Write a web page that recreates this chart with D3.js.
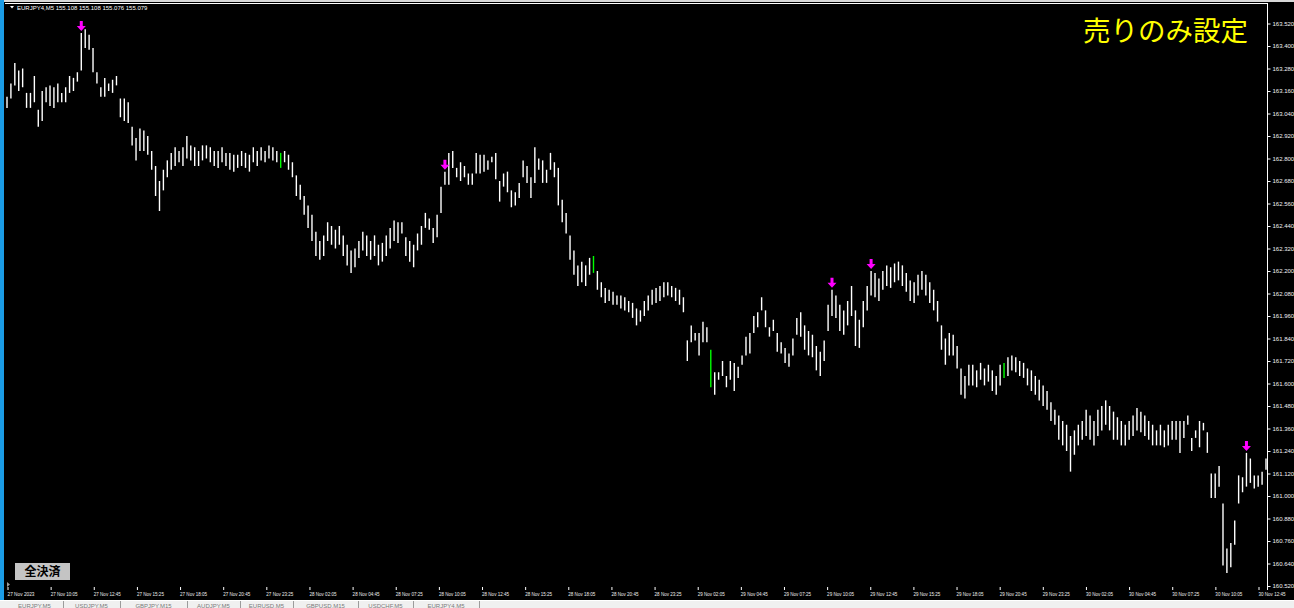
<!DOCTYPE html>
<html>
<head>
<meta charset="utf-8">
<script src="https://cdn.jsdelivr.net/npm/d3@7"></script>
<style>
  html, body { margin: 0; padding: 0; background: #000; overflow: hidden; }
  #chart { width: 1294px; height: 608px; }
</style>
</head>
<body>
<div id="chart"></div>
<script>
const symbolText = "EURJPY4,M5  155.108 155.108 155.076 155.079";
const titleText = "売りのみ設定";
const buttonText = "全決済";

// M15-ish bars, left to right
const highs = [
  163.13, 163.20, 163.31, 163.27, 163.28, 163.15, 163.15, 163.24, 163.06, 163.16,
  163.18, 163.19, 163.18, 163.20, 163.15, 163.18, 163.24, 163.23, 163.26, 163.47,
  163.49, 163.46, 163.39, 163.26, 163.18, 163.23, 163.20, 163.22, 163.24, 163.12,
  163.12, 163.10, 162.97, 162.91, 162.96, 162.95, 162.92, 162.84, 162.76, 162.68,
  162.74, 162.79, 162.83, 162.86, 162.84, 162.86, 162.92, 162.87, 162.86, 162.84,
  162.87, 162.87, 162.86, 162.84, 162.84, 162.86, 162.83, 162.83, 162.82, 162.82,
  162.84, 162.83, 162.82, 162.86, 162.84, 162.86, 162.84, 162.87, 162.86, 162.84,
  162.83, 162.84, 162.82, 162.78, 162.71, 162.66, 162.60, 162.55, 162.50, 162.41,
  162.36, 162.39, 162.46, 162.44, 162.42, 162.44, 162.39, 162.34, 162.31, 162.32,
  162.36, 162.41, 162.39, 162.36, 162.39, 162.34, 162.35, 162.39, 162.43, 162.47,
  162.46, 162.46, 162.38, 162.36, 162.34, 162.40, 162.44, 162.51, 162.48, 162.43,
  162.50, 162.65, 162.73, 162.83, 162.84, 162.75, 162.78, 162.76, 162.72, 162.72,
  162.83, 162.82, 162.82, 162.79, 162.81, 162.83, 162.68, 162.72, 162.73, 162.63,
  162.62, 162.67, 162.79, 162.76, 162.70, 162.86, 162.80, 162.79, 162.74, 162.83,
  162.78, 162.75, 162.58, 162.51, 162.39, 162.31, 162.23, 162.25, 162.23, 162.27,
  162.28, 162.20, 162.14, 162.11, 162.10, 162.09, 162.07, 162.07, 162.06, 162.04,
  162.03, 162.00, 161.99, 162.04, 162.07, 162.10, 162.11, 162.12, 162.14, 162.14,
  162.12, 162.11, 162.10, 162.06, 161.83, 161.91, 161.87, 161.87, 161.93, 161.90,
  161.78, 161.66, 161.66, 161.72, 161.64, 161.72, 161.71, 161.69, 161.75, 161.85,
  161.87, 161.96, 161.98, 162.06, 161.99, 161.90, 161.94, 161.87, 161.82, 161.79,
  161.76, 161.84, 161.95, 161.98, 161.91, 161.88, 161.86, 161.80, 161.77, 161.83,
  162.02, 162.10, 162.07, 162.02, 161.99, 162.04, 162.12, 161.99, 161.94, 162.04,
  162.12, 162.20, 162.19, 162.16, 162.20, 162.23, 162.22, 162.24, 162.25, 162.23,
  162.19, 162.15, 162.14, 162.18, 162.20, 162.18, 162.14, 162.10, 162.04, 161.91,
  161.84, 161.87, 161.86, 161.80, 161.68, 161.64, 161.70, 161.70, 161.67, 161.71,
  161.68, 161.70, 161.67, 161.64, 161.70, 161.71, 161.74, 161.75, 161.74, 161.72,
  161.71, 161.68, 161.67, 161.64, 161.62, 161.59, 161.56, 161.50, 161.46, 161.43,
  161.40, 161.38, 161.32, 161.35, 161.38, 161.40, 161.46, 161.43, 161.40, 161.46,
  161.48, 161.51, 161.48, 161.45, 161.42, 161.40, 161.38, 161.40, 161.43, 161.47,
  161.45, 161.43, 161.40, 161.38, 161.35, 161.38, 161.35, 161.38, 161.40, 161.40,
  161.40, 161.40, 161.43, 161.31, 161.35, 161.40, 161.39, 161.34, 161.12, 161.12,
  161.16, 160.96, 160.72, 160.75, 160.87, 161.11, 161.10, 161.23, 161.20, 161.11,
  161.11, 161.13, 161.20
];
const lows = [
  163.07, 163.12, 163.19, 163.16, 163.18, 163.07, 163.07, 163.10, 162.97, 163.00,
  163.10, 163.08, 163.07, 163.10, 163.10, 163.10, 163.15, 163.16, 163.21, 163.27,
  163.39, 163.38, 163.26, 163.20, 163.13, 163.13, 163.16, 163.15, 163.19, 163.02,
  163.00, 162.99, 162.87, 162.79, 162.84, 162.84, 162.82, 162.74, 162.60, 162.52,
  162.63, 162.70, 162.74, 162.76, 162.78, 162.76, 162.80, 162.79, 162.76, 162.76,
  162.79, 162.80, 162.78, 162.76, 162.75, 162.78, 162.76, 162.74, 162.73, 162.75,
  162.76, 162.75, 162.73, 162.78, 162.76, 162.79, 162.78, 162.80, 162.79, 162.78,
  162.75, 162.78, 162.74, 162.70, 162.60, 162.58, 162.50, 162.43, 162.36, 162.28,
  162.26, 162.28, 162.36, 162.34, 162.32, 162.34, 162.28, 162.23, 162.19, 162.22,
  162.27, 162.31, 162.28, 162.26, 162.28, 162.23, 162.25, 162.28, 162.32, 162.36,
  162.35, 162.40, 162.28, 162.25, 162.22, 162.31, 162.34, 162.43, 162.42, 162.35,
  162.38, 162.51, 162.66, 162.66, 162.75, 162.70, 162.68, 162.70, 162.66, 162.66,
  162.72, 162.72, 162.73, 162.74, 162.78, 162.69, 162.57, 162.65, 162.62, 162.54,
  162.55, 162.59, 162.70, 162.67, 162.59, 162.67, 162.74, 162.67, 162.67, 162.74,
  162.70, 162.55, 162.46, 162.40, 162.26, 162.18, 162.12, 162.14, 162.12, 162.18,
  162.19, 162.10, 162.06, 162.03, 162.04, 162.02, 162.02, 162.00, 161.99, 161.98,
  161.95, 161.91, 161.93, 161.96, 161.99, 162.02, 162.03, 162.04, 162.06, 162.07,
  162.06, 162.04, 162.02, 161.98, 161.72, 161.82, 161.83, 161.75, 161.82, 161.82,
  161.58, 161.54, 161.62, 161.64, 161.58, 161.62, 161.56, 161.63, 161.70, 161.75,
  161.76, 161.87, 161.90, 161.99, 161.90, 161.85, 161.88, 161.77, 161.76, 161.71,
  161.69, 161.75, 161.86, 161.85, 161.78, 161.75, 161.74, 161.67, 161.64, 161.72,
  161.88, 161.96, 161.95, 161.88, 161.86, 161.91, 161.96, 161.80, 161.79, 161.90,
  161.99, 162.07, 162.06, 162.04, 162.10, 162.12, 162.11, 162.14, 162.15, 162.12,
  162.09, 162.04, 162.03, 162.07, 162.10, 162.07, 162.03, 161.99, 161.93, 161.78,
  161.70, 161.75, 161.75, 161.68, 161.54, 161.52, 161.59, 161.59, 161.58, 161.62,
  161.59, 161.61, 161.56, 161.54, 161.59, 161.63, 161.64, 161.67, 161.66, 161.64,
  161.63, 161.59, 161.56, 161.54, 161.51, 161.48, 161.46, 161.40, 161.38, 161.30,
  161.27, 161.24, 161.13, 161.22, 161.27, 161.30, 161.32, 161.30, 161.27, 161.32,
  161.35, 161.38, 161.35, 161.30, 161.30, 161.27, 161.27, 161.30, 161.32, 161.35,
  161.34, 161.32, 161.30, 161.27, 161.27, 161.27, 161.26, 161.27, 161.30, 161.30,
  161.23, 161.31, 161.38, 161.24, 161.31, 161.26, 161.35, 161.23, 160.99, 160.99,
  161.05, 160.63, 160.59, 160.62, 160.74, 160.96, 161.02, 161.05, 161.07, 161.04,
  161.05, 161.06, 161.14
];

// bars that carry a sell arrow, and bars drawn in green
const sellSignals = [19, 112, 211, 221, 317];
const greenBars = [70, 150, 180, 255];

const priceTicks = [
  163.52, 163.40, 163.28, 163.16, 163.04, 162.92, 162.80, 162.68, 162.56,
  162.44, 162.32, 162.20, 162.08, 161.96, 161.84, 161.72, 161.60, 161.48,
  161.36, 161.24, 161.12, 161.00, 160.88, 160.76, 160.64, 160.52
];
const timeTicks = [
  "27 Nov 2023", "27 Nov 10:05", "27 Nov 12:45", "27 Nov 15:25", "27 Nov 18:05",
  "27 Nov 20:45", "27 Nov 23:25", "28 Nov 02:05", "28 Nov 04:45", "28 Nov 07:25",
  "28 Nov 10:05", "28 Nov 12:45", "28 Nov 15:25", "28 Nov 18:05", "28 Nov 20:45",
  "28 Nov 23:25", "29 Nov 02:05", "29 Nov 04:45", "29 Nov 07:25", "29 Nov 10:05",
  "29 Nov 12:45", "29 Nov 15:25", "29 Nov 18:05", "29 Nov 20:45", "29 Nov 23:25",
  "30 Nov 02:05", "30 Nov 04:45", "30 Nov 07:25", "30 Nov 10:05", "30 Nov 12:45"
];
const tabNames = [
  "EURJPY,M5", "USDJPY,M5", "GBPJPY,M15", "AUDJPY,M5", "EURUSD,M5",
  "GBPUSD,M15", "USDCHF,M5", "EURJPY4,M5"
];

const width = 1294;
const height = 608;
const smallFont = "'Liberation Sans', Arial, sans-serif";
const cjkFont = "'Noto Sans CJK JP', 'Noto Sans', sans-serif";

const svg = d3
  .select("#chart")
  .append("svg")
  .attr("width", width)
  .attr("height", height)
  .style("display", "block");

svg.append("rect").attr("width", width).attr("height", height).attr("fill", "#000");

// window edges
svg.append("rect").attr("x", 0).attr("y", 0).attr("width", width).attr("height", 2).attr("fill", "#d8d8d8");
svg.append("rect").attr("x", 0).attr("y", 0).attr("width", 4).attr("height", 600).attr("fill", "#1b9ce6");
svg.append("line")
  .attr("x1", 5).attr("x2", 1267.5).attr("y1", 3.5).attr("y2", 3.5)
  .attr("stroke", "#fff").attr("stroke-width", 1);
svg.append("line")
  .attr("x1", 1267.5).attr("x2", 1267.5).attr("y1", 3).attr("y2", 590)
  .attr("stroke", "#fff").attr("stroke-width", 1);

const x = d3.scaleLinear().domain([0, highs.length - 1]).range([7, 1266]);
const y = d3.scaleLinear().domain([160.52, 163.52]).range([586, 23.5]);
const xTick = d3.scalePoint().domain(timeTicks).range([7, 1258]);

const bars = highs.map((h, i) => ({ i, high: h, low: lows[i] }));

svg
  .append("g")
  .selectAll("line")
  .data(bars)
  .join("line")
  .attr("x1", (d) => x(d.i))
  .attr("x2", (d) => x(d.i))
  .attr("y1", (d) => y(d.high))
  .attr("y2", (d) => y(d.low))
  .attr("stroke", (d) => (greenBars.includes(d.i) ? "#00ff00" : "#ffffff"))
  .attr("stroke-width", 1.4);

// sell arrows just above the bar high
const arrowPath = (cx, tip) =>
  `M${cx - 1.5},${tip - 10}h3v5h3l-4.5,5l-4.5,-5h3z`;

svg
  .append("g")
  .selectAll("path")
  .data(sellSignals)
  .join("path")
  .attr("d", (i) => arrowPath(x(i), y(highs[i]) - 2))
  .attr("fill", "#ff00ff");

// price axis
const yAxis = svg
  .append("g")
  .attr("transform", "translate(1267.5,0)")
  .call(d3.axisRight(y).tickValues(priceTicks).tickSize(3).tickPadding(2).tickFormat(d3.format(".3f")));
yAxis.select(".domain").remove();
yAxis.selectAll("line").attr("stroke", "#fff");
yAxis.selectAll("text")
  .attr("fill", "#f0f0f0")
  .style("font-family", smallFont)
  .style("font-size", "6px");

// time axis
const xAxis = svg
  .append("g")
  .attr("transform", "translate(0,587)")
  .call(d3.axisBottom(xTick).tickSize(3).tickPadding(2));
xAxis.select(".domain").remove();
xAxis.selectAll("line").attr("stroke", "#fff").attr("transform", "translate(0.5,0)");
xAxis.selectAll("text")
  .attr("fill", "#f0f0f0")
  .attr("text-anchor", "start")
  .attr("textLength", 27)
  .attr("lengthAdjust", "spacingAndGlyphs")
  .style("font-family", smallFont)
  .style("font-size", "6px");

// small chart-start marker
svg.append("path").attr("d", "M7,582l3,2.5l-3,2.5z").attr("fill", "#9a9a9a");

// header line
svg.append("path").attr("d", "M10,6h4l-2,2.5z").attr("fill", "#fff");
svg
  .append("text")
  .attr("x", 17)
  .attr("y", 9.5)
  .attr("fill", "#fff")
  .style("font-family", smallFont)
  .style("font-size", "6px")
  .text(symbolText);

// mode label
svg
  .append("text")
  .attr("x", 1083)
  .attr("y", 41)
  .attr("fill", "#ffff00")
  .style("font-family", cjkFont)
  .style("font-size", "27.5px")
  .text(titleText);

// close-all button
svg.append("rect")
  .attr("x", 15).attr("y", 563).attr("width", 55).attr("height", 17)
  .attr("fill", "#c4c4c4");
svg
  .append("text")
  .attr("x", 42.5)
  .attr("y", 576)
  .attr("text-anchor", "middle")
  .attr("fill", "#000")
  .style("font-family", cjkFont)
  .style("font-size", "12px")
  .style("font-weight", "bold")
  .text(buttonText);

// bottom tab strip
svg.append("rect").attr("x", 0).attr("y", 600).attr("width", width).attr("height", 8).attr("fill", "#f0f0f0");
svg.append("line")
  .attr("x1", 0).attr("x2", width).attr("y1", 600.5).attr("y2", 600.5)
  .attr("stroke", "#ffffff");
const tabEdges = [6, 63, 120, 187, 240, 293, 358, 413, 479];
const tabs = tabNames.map((name, i) => ({ name, x0: tabEdges[i], x1: tabEdges[i + 1] }));
const tabG = svg.append("g");
tabG
  .selectAll("line")
  .data(tabs)
  .join("line")
  .attr("x1", (d) => d.x1 + 0.5)
  .attr("x2", (d) => d.x1 + 0.5)
  .attr("y1", 601)
  .attr("y2", 608)
  .attr("stroke", "#9c9c9c");
tabG
  .selectAll("text")
  .data(tabs)
  .join("text")
  .attr("x", (d) => (d.x0 + d.x1) / 2)
  .attr("y", 607.5)
  .attr("text-anchor", "middle")
  .attr("fill", "#7a7a7a")
  .style("font-family", smallFont)
  .style("font-size", "6px")
  .text((d) => d.name);
</script>
</body>
</html>
